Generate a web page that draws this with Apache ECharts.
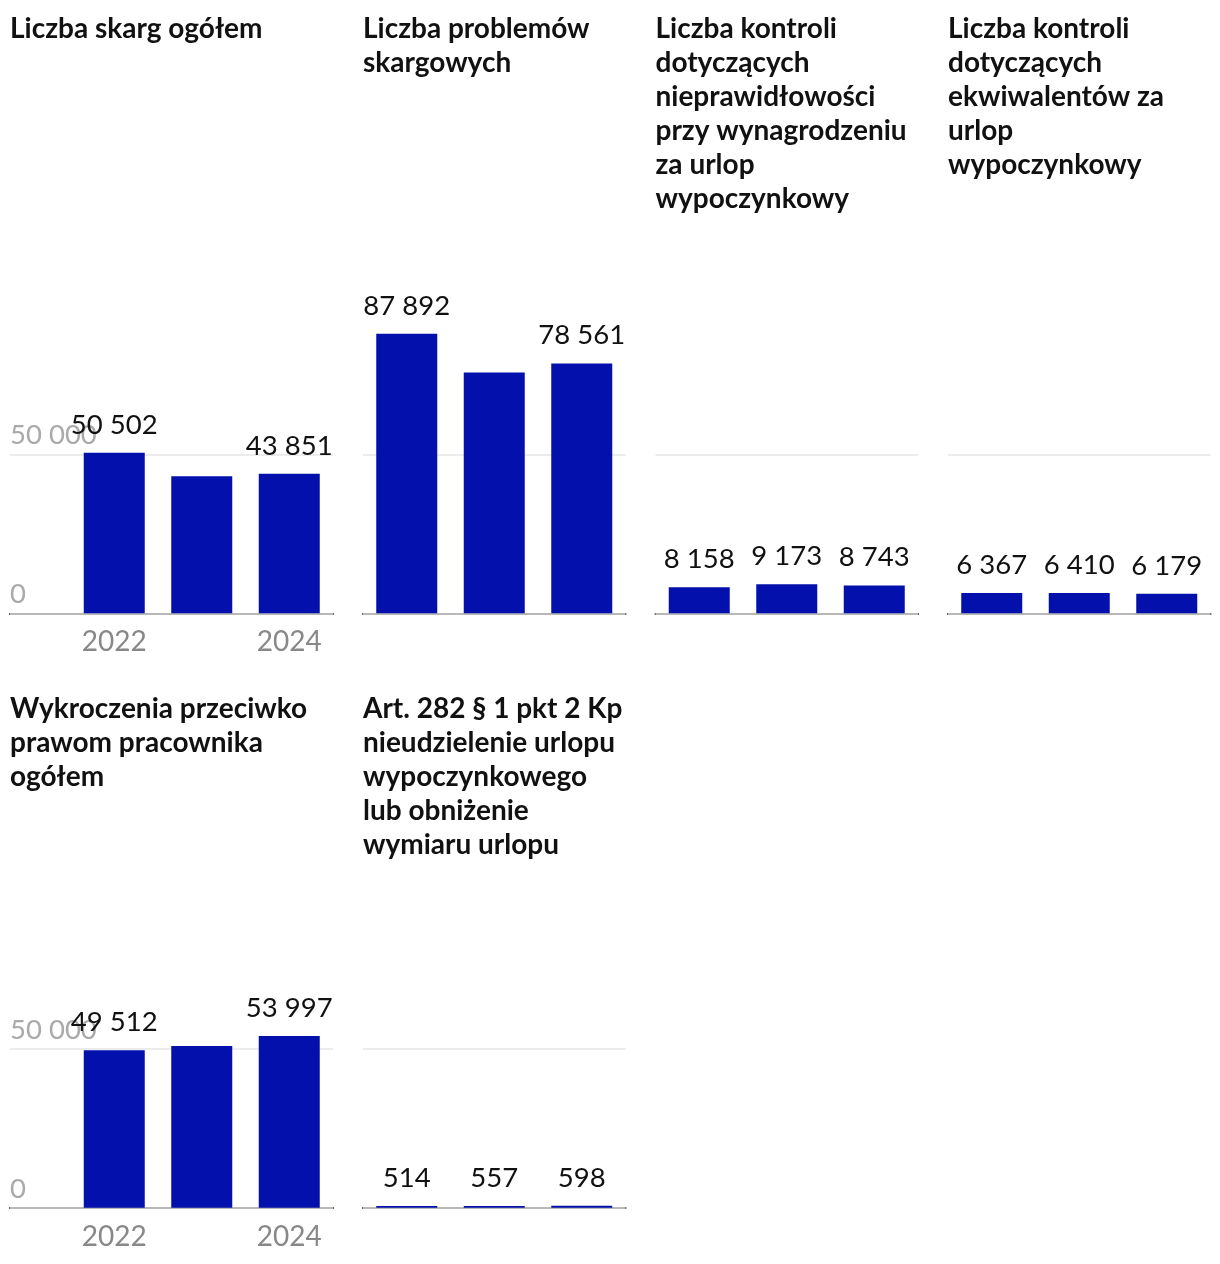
<!DOCTYPE html>
<html><head><meta charset="utf-8">
<script src="https://cdn.jsdelivr.net/npm/echarts@6/dist/echarts.min.js"></script>
<style>html,body{margin:0;padding:0;background:#fff}#c{width:1220px;height:1264px}</style>
</head><body><div id="c"></div>
<script>
// ---- data ----
const years = ['2022', '2023', '2024'];
const titles = [
  'Liczba skarg ogółem',
  'Liczba problemów\nskargowych',
  'Liczba kontroli\ndotyczących\nnieprawidłowości\nprzy wynagrodzeniu\nza urlop\nwypoczynkowy',
  'Liczba kontroli\ndotyczących\nekwiwalentów za\nurlop\nwypoczynkowy',
  'Wykroczenia przeciwko\nprawom pracownika\nogółem',
  'Art. 282 § 1 pkt 2 Kp\nnieudzielenie urlopu\nwypoczynkowego\nlub obniżenie\nwymiaru urlopu'
];
const skargi = [50502, 43120, 43851];
const problemy = [87892, 75700, 78561];
const kontroleWynagrodzenie = [8158, 9173, 8743];
const kontroleEkwiwalent = [6367, 6410, 6179];
const wykroczenia = [49512, 50850, 53997];
const art282 = [514, 557, 598];
const seriesValues = [skargi, problemy, kontroleWynagrodzenie, kontroleEkwiwalent, wykroczenia, art282];
const yTickValues = [0, 50000];
const xLabelYears = [0, 2]; // indices of years shown as axis labels

// ---- layout / style ----
const hiddenLabels = [[1], [1], [], [], [1], []];
const panels = [
  {left: 10, width: 323, row: 0, axis: true},
  {left: 363, width: 262.5, row: 0, axis: false},
  {left: 655.5, width: 262.5, row: 0, axis: false},
  {left: 948, width: 262.5, row: 0, axis: false},
  {left: 10, width: 323, row: 1, axis: true},
  {left: 363, width: 262.5, row: 1, axis: false}
];
const rowBase = [613.3, 1207.7];
const rowTitleTop = [12, 692];
const plotH = 318;
const barColor = '#0310AB';
const font = 'Lato, "Noto Sans", sans-serif';
const fmt = n => String(n).replace(/\B(?=(\d{3})+(?!\d))/g, ' ');

const grid = [], xAxis = [], yAxis = [], series = [], title = [];
panels.forEach((p, i) => {
  title.push({
    text: titles[i], left: p.left, top: rowTitleTop[p.row], padding: 0,
    textStyle: {fontFamily: font, fontWeight: 'bold', fontSize: 28, lineHeight: 34, color: '#111'}
  });
  grid.push({left: p.left, width: p.width, top: rowBase[p.row] - plotH, height: plotH, containLabel: false});
  const step = 87.5;
  const xmax = 2.5;
  const xmin = xmax - p.width / step;
  xAxis.push({
    gridIndex: i, type: 'value', min: xmin, max: xmax,
    axisLine: {show: true, onZero: false, lineStyle: {color: '#333', width: 2}},
    axisTick: {show: false},
    splitLine: {show: false},
    axisLabel: {
      show: p.axis, customValues: xLabelYears, margin: 15,
      formatter: v => years[Math.round(v)] || '',
      color: '#888', fontSize: 28, fontFamily: font
    }
  });
  yAxis.push({
    gridIndex: i, type: 'value', min: 0, max: 100000, interval: 50000,
    axisLine: {show: false}, axisTick: {show: false},
    splitLine: {show: true, showMaxLine: false, lineStyle: {color: ['#e6e6e6', '#e6e6e6', 'rgba(0,0,0,0)'], width: 1.5}},
    axisLabel: {
      show: p.axis, inside: true, margin: 0, verticalAlign: 'bottom', showMaxLabel: false,
      padding: [0, 0, 5, 0],
      formatter: v => (yTickValues.indexOf(v) >= 0 ? fmt(v) : ''),
      color: '#aaa', fontSize: 27.5, fontFamily: font
    },
    z: 1
  });
  series.push({
    type: 'bar', xAxisIndex: i, yAxisIndex: i, barWidth: 61,
    itemStyle: {color: barColor},
    label: {show: true, position: 'top', distance: 14, color: '#111', fontSize: 27.5, fontFamily: font,
      formatter: d => hiddenLabels[i].indexOf(d.dataIndex) >= 0 ? '' : fmt(d.value[1])},
    data: seriesValues[i].map((v, k) => [k, v]),
    z: 3
  });
});

const chart = echarts.init(document.getElementById('c'), null, {renderer: 'canvas'});
chart.setOption({animation: false, backgroundColor: '#fff', title, grid, xAxis, yAxis, series});
</script></body></html>
